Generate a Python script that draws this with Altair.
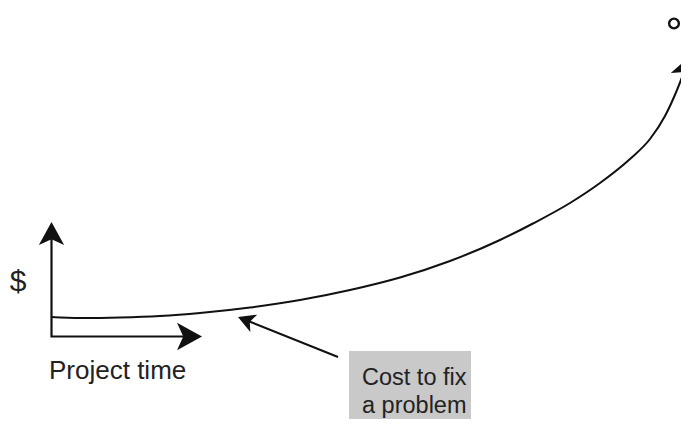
import math
import altair as alt
import pandas as pd

# ---- diagram data (coordinates of the sketch: x to the right, y downward) ----
# cost-to-fix curve (ends where its arrowhead starts)
curve_x = [51, 80, 120, 160, 200, 250, 300, 350, 400, 450, 500, 533, 570, 600, 630, 650, 665, 677, 684]
curve_y = [317, 318, 317.5, 316, 313, 307.5, 300, 290, 277.5, 261, 240, 223.5, 203, 183, 159, 139, 116, 90, 72]
curve_tip = (689.7, 56.5)

# axes: the L shape, with the tips of its two arrows
axes_x = [51.5, 51.5, 190]
axes_y = [232, 336.5, 336.5]
yaxis_tip = (51.5, 222)
xaxis_tip = (202, 336.5)

# pointer from the label box to the curve
pointer_x = [338, 247]
pointer_y = [357, 320.5]
pointer_tip = (238, 317)

# small circle at the top right
circle_x = [674]
circle_y = [23.5]

# grey label box
box_x, box_x2 = [349], [471]
box_y, box_y2 = [351], [432]

# texts
dollar_text, dollar_x, dollar_y = ["$"], [18], [291]
time_text, time_x, time_y = ["Project time"], [49], [379]
cost_text = ["Cost to fix", "a problem"]
cost_x = [362, 362]
cost_y = [385, 413]

# ---- build tables ----
xs = alt.Scale(domain=[8, 681])
ys = alt.Scale(domain=[8, 419], reverse=True)
INK = "#111111"
TXT = "#222222"
FONT = "Liberation Sans"
DART = "M0,-1 L1.1,1 L0,0.5 L-1.1,1 Z"


def head(tip, prev, half_len):
    dx, dy = tip[0] - prev[0], tip[1] - prev[1]
    n = math.hypot(dx, dy)
    ux, uy = dx / n, dy / n
    ang = math.degrees(math.atan2(ux, -uy)) % 360
    return {"x": tip[0] - half_len * ux, "y": tip[1] - half_len * uy,
            "angle": ang, "size": (2 * half_len) ** 2}


heads = pd.DataFrame([
    head(yaxis_tip, (axes_x[0], axes_y[1]), 11.5),
    head(xaxis_tip, (axes_x[1], axes_y[2]), 12.5),
    head(curve_tip, (curve_x[-1], curve_y[-1]), 11),
    head(pointer_tip, (pointer_x[0], pointer_y[0]), 8.5),
])

curve_df = pd.DataFrame({"x": curve_x, "y": curve_y, "o": range(len(curve_x))})
axes_df = pd.DataFrame({"x": axes_x, "y": axes_y, "o": range(len(axes_x))})
pointer_df = pd.DataFrame({"x": pointer_x, "y": pointer_y, "o": range(len(pointer_x))})
circle_df = pd.DataFrame({"x": circle_x, "y": circle_y})
box_df = pd.DataFrame({"x": box_x, "x2": box_x2, "y": box_y, "y2": box_y2})
dollar_df = pd.DataFrame({"t": dollar_text, "x": dollar_x, "y": dollar_y})
time_df = pd.DataFrame({"t": time_text, "x": time_x, "y": time_y})
cost_df = pd.DataFrame({"t": cost_text, "x": cost_x, "y": cost_y})

X = lambda: alt.X("x:Q", scale=xs, axis=None)
Y = lambda: alt.Y("y:Q", scale=ys, axis=None)

box = alt.Chart(box_df).mark_rect(color="#c9c9c9").encode(
    x=X(), x2="x2:Q", y=Y(), y2="y2:Q")

curve = alt.Chart(curve_df).mark_line(color=INK, strokeWidth=2, interpolate="monotone").encode(
    x=X(), y=Y(), order="o:Q")
axes = alt.Chart(axes_df).mark_line(color=INK, strokeWidth=2.2).encode(
    x=X(), y=Y(), order="o:Q")
pointer = alt.Chart(pointer_df).mark_line(color=INK, strokeWidth=2).encode(
    x=X(), y=Y(), order="o:Q")

arrowheads = alt.Chart(heads).mark_point(
    shape=DART, filled=True, color=INK, opacity=1, strokeWidth=0).encode(
    x=X(), y=Y(),
    angle=alt.Angle("angle:Q", scale=None),
    size=alt.Size("size:Q", scale=None, legend=None))

circle = alt.Chart(circle_df).mark_point(
    shape="circle", filled=False, color=INK, size=95, strokeWidth=2.4, opacity=1).encode(
    x=X(), y=Y())

dollar = alt.Chart(dollar_df).mark_text(
    font=FONT, fontSize=30, color=TXT, align="center", baseline="alphabetic").encode(
    x=X(), y=Y(), text="t:N")
ptime = alt.Chart(time_df).mark_text(
    font=FONT, fontSize=26, color=TXT, align="left", baseline="alphabetic").encode(
    x=X(), y=Y(), text="t:N")
cost = alt.Chart(cost_df).mark_text(
    font=FONT, fontSize=23.5, color=TXT, align="left", baseline="alphabetic").encode(
    x=X(), y=Y(), text="t:N")

chart = alt.layer(box, curve, axes, pointer, arrowheads, circle, dollar, ptime, cost).properties(
    width=673, height=411, padding=0, background="white",
    autosize=alt.AutoSizeParams(type="none"),
).configure_view(stroke=None)

chart.save("out.html", embed_options={"renderer": "svg", "actions": False})
